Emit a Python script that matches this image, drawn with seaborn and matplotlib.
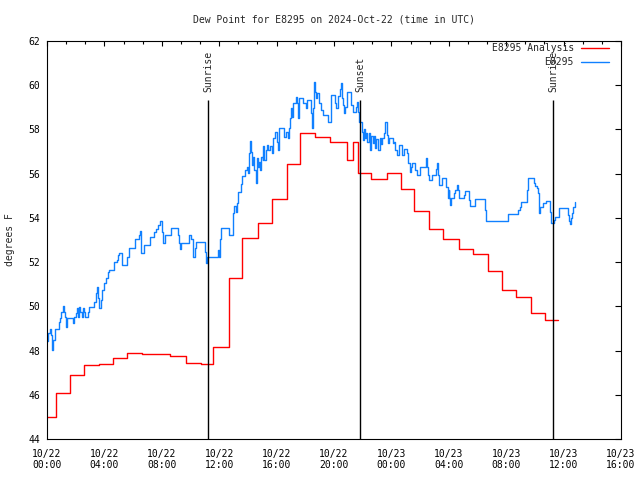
import numpy as np
import pandas as pd
import matplotlib
matplotlib.use("Agg")
import matplotlib.pyplot as plt
import matplotlib.dates as mdates
import matplotlib.ticker as mticker
import seaborn as sns

# ---------------- data ----------------
title = "Dew Point for E8295 on 2024-Oct-22 (time in UTC)"
ylabel = "degrees F"
start = pd.Timestamp("2024-10-22 00:00")
end = pd.Timestamp("2024-10-23 16:00")

# Analysis (hours after start, value)
analysis_hours = [0, 0.6, 1.6, 2.6, 3.6, 4.6, 5.6, 6.6, 8.6, 9.7, 10.7, 11.6, 12.7,
                  13.6, 14.7, 15.7, 16.7, 17.6, 18.7, 19.7, 20.9, 21.3, 21.7, 22.6,
                  23.7, 24.7, 25.6, 26.6, 27.6, 28.7, 29.7, 30.7, 31.7, 32.7, 33.7,
                  34.7, 35.6]
analysis_vals = [45.0, 46.1, 46.9, 47.35, 47.4, 47.65, 47.9, 47.85, 47.75, 47.45, 47.4,
                 48.15, 51.3, 53.1, 53.75, 54.85, 56.45, 57.85, 57.65, 57.45, 56.6,
                 57.45, 56.05, 55.75, 56.05, 55.3, 54.3, 53.5, 53.05, 52.6, 52.35,
                 51.6, 50.75, 50.4, 49.7, 49.4, 49.4]

# Station observations (hours after start, value)
obs_hours = [
    0.00, 0.09, 0.19, 0.26, 0.35, 0.44, 0.56, 0.81, 0.91, 1.00, 1.09, 1.18, 1.25, 1.35,
    1.42, 1.84, 1.90, 2.00, 2.07, 2.14, 2.23, 2.32, 2.42, 2.51, 2.58, 2.67, 2.83, 2.90,
    3.28, 3.39, 3.48, 3.55, 3.62, 3.74, 3.85, 3.97, 4.11, 4.25, 4.34, 4.67, 4.90, 4.97,
    5.04, 5.23, 5.60, 5.71, 6.15, 6.39, 6.46, 6.52, 6.57, 6.78, 7.20, 7.48, 7.60, 7.74,
    7.85, 8.01, 8.06, 8.24, 8.62, 9.13, 9.17, 9.29, 9.36, 9.92, 10.06, 10.15, 10.20,
    10.29, 10.41, 11.03, 11.08, 11.15, 11.90, 11.96, 12.03, 12.10, 12.71, 12.99, 13.05,
    13.15, 13.22, 13.33, 13.52, 13.61, 13.80, 13.91, 13.99, 14.08, 14.17, 14.24, 14.31,
    14.38, 14.45, 14.54, 14.61, 14.68, 14.77, 14.84, 14.94, 15.03, 15.08, 15.15, 15.24,
    15.33, 15.42, 15.54, 15.66, 15.77, 15.89, 16.00, 16.12, 16.19, 16.54, 16.66, 16.77,
    16.86, 16.93, 17.00, 17.10, 17.17, 17.35, 17.44, 17.51, 17.58, 17.82, 18.05, 18.14,
    18.37, 18.47, 18.54, 18.61, 18.70, 18.77, 18.84, 18.93, 19.12, 19.23, 19.58, 19.77,
    19.81, 20.05, 20.16, 20.28, 20.40, 20.47, 20.54, 20.63, 20.70, 20.79, 20.88, 21.21,
    21.32, 21.56, 21.62, 21.67, 21.72, 21.95, 22.02, 22.09, 22.18, 22.25, 22.32, 22.42,
    22.51, 22.60, 22.72, 22.79, 22.88, 22.95, 23.07, 23.18, 23.25, 23.34, 23.48, 23.58,
    23.67, 23.76, 23.85, 24.09, 24.18, 24.27, 24.41, 24.50, 24.74, 24.90, 25.09, 25.13,
    25.30, 25.37, 25.44, 25.67, 25.76, 25.99, 26.41, 26.48, 26.53, 26.60, 26.80, 27.10,
    27.20, 27.27, 27.34, 27.53, 27.80, 27.92, 27.99, 28.04, 28.11, 28.15, 28.34, 28.45,
    28.55, 28.64, 28.73, 29.03, 29.15, 29.38, 29.48, 29.85, 30.54, 30.57, 32.15, 32.82,
    32.96, 33.05, 33.43, 33.50, 33.94, 34.00, 34.12, 34.22, 34.28, 34.36, 34.59, 34.77,
    35.05, 35.12, 35.33, 35.42, 35.66, 36.33, 36.40, 36.47, 36.54, 36.61, 36.68, 36.77]
obs_vals = [
    48.43, 48.78, 48.96, 48.70, 48.02, 48.48, 48.99, 49.28, 49.49, 49.76, 50.01, 49.76,
    49.53, 49.08, 49.49, 49.23, 49.53, 49.68, 49.91, 49.53, 49.98, 49.76, 49.53, 49.91,
    49.76, 49.53, 49.76, 49.98, 50.21, 50.59, 50.89, 50.36, 49.91, 50.29, 50.74, 51.04,
    51.27, 51.57, 51.64, 52.02, 52.10, 52.32, 52.43, 51.87, 52.25, 52.62, 53.03, 53.23,
    53.41, 53.15, 52.42, 52.77, 53.15, 53.35, 53.48, 53.68, 53.85, 53.38, 52.85, 53.23,
    53.53, 53.23, 52.85, 52.58, 52.88, 53.23, 53.03, 52.55, 52.25, 52.62, 52.90, 52.47,
    51.94, 52.22, 52.55, 52.22, 53.03, 53.53, 53.23, 54.21, 54.54, 54.28, 54.69, 55.19,
    55.53, 55.89, 56.17, 56.32, 56.01, 56.92, 57.48, 57.00, 56.39, 56.77, 56.17, 55.56,
    56.69, 56.32, 56.54, 56.17, 56.77, 56.64, 57.25, 56.62, 57.07, 57.30, 57.07, 57.25,
    56.92, 57.60, 57.90, 57.45, 57.07, 58.05, 57.67, 57.90, 57.60, 58.05, 58.50, 58.95,
    58.57, 59.18, 59.48, 59.18, 58.50, 59.40, 59.18, 58.95, 59.33, 58.73, 58.05, 58.96,
    60.16, 59.70, 59.41, 59.63, 59.18, 58.88, 58.65, 58.35, 58.88, 59.56, 59.18, 58.95,
    59.51, 59.85, 60.09, 59.41, 59.10, 58.73, 59.01, 59.68, 59.10, 58.80, 59.03, 59.26,
    58.80, 58.35, 57.90, 57.52, 58.00, 57.60, 57.83, 57.45, 57.83, 57.07, 57.70, 57.40,
    57.70, 57.15, 57.55, 57.07, 57.60, 57.35, 57.60, 57.83, 58.35, 57.75, 57.37, 57.60,
    57.37, 57.45, 57.07, 56.84, 57.30, 56.84, 57.10, 56.92, 56.47, 56.09, 56.30, 56.50,
    56.16, 55.94, 56.29, 56.69, 56.30, 55.94, 55.71, 55.94, 56.20, 56.47, 55.94, 55.49,
    55.80, 55.41, 54.89, 55.28, 54.92, 54.58, 54.89, 55.11, 55.26, 55.49, 55.28, 54.92,
    55.03, 55.22, 54.81, 54.54, 54.84, 54.36, 53.86, 54.18, 54.36, 54.51, 54.73, 55.26,
    55.79, 55.60, 55.43, 55.34, 55.14, 54.21, 54.51, 54.69, 54.76, 54.28, 53.78, 53.90,
    54.05, 54.43, 54.13, 53.84, 53.73, 53.99, 54.20, 54.50, 54.70]

sun_labels = ["Sunrise", "Sunset", "Sunrise"]
sun_hours = [11.25, 21.83, 35.28]

series_labels = ["E8295 Analysis", "E8295"]
series_colors = ["#ff0000", "#1080ff"]
y_ticks = list(range(44, 63, 2))

# ---------------- build ----------------
def to_time(hours):
    return start + pd.to_timedelta(np.asarray(hours, dtype=float), unit="h")

df_a = pd.DataFrame({"time": to_time(analysis_hours), "val": analysis_vals})
df_o = pd.DataFrame({"time": to_time(obs_hours), "val": obs_vals})
sun_times = to_time(sun_hours)

sns.set_style("white")
plt.rcParams["font.family"] = ["DejaVu Sans Mono"]
plt.rcParams["font.size"] = 7

fig = plt.figure(figsize=(6.4, 4.8), dpi=100)
ax = fig.add_axes([47 / 640, 41 / 480, 574 / 640, 398 / 480])

sns.lineplot(data=df_a, x="time", y="val", ax=ax, color=series_colors[0], lw=1.0,
             drawstyle="steps-post", estimator=None, sort=False, label=series_labels[0])
sns.lineplot(data=df_o, x="time", y="val", ax=ax, color=series_colors[1], lw=1.0,
             drawstyle="steps-post", estimator=None, sort=False, label=series_labels[1])

ax.vlines(sun_times, 44, 59.35, color="black", lw=1.0)
for t, lab in zip(sun_times, sun_labels):
    ax.text(t, 59.7, lab, rotation=90, ha="center", va="bottom", fontsize=7)

ax.set_xlim(start, end)
ax.set_ylim(44, 62)
ax.set_yticks(y_ticks)
ax.xaxis.set_major_locator(mdates.HourLocator(byhour=range(0, 24, 4)))
ax.xaxis.set_major_formatter(mdates.DateFormatter("%m/%d\n%H:%M"))
ax.xaxis.set_minor_locator(mticker.MultipleLocator(1 / 18))

ax.tick_params(which="both", direction="in", top=True, right=True, width=0.8,
               colors="black", labelsize=7)
ax.tick_params(axis="x", which="major", length=3.3, pad=7)
ax.tick_params(axis="x", which="minor", length=1.8)
ax.tick_params(axis="y", which="major", length=4, pad=5)
for sp in ax.spines.values():
    sp.set_color("black")
    sp.set_linewidth(0.8)

ax.set_xlabel("")
ax.set_ylabel("")
fig.text(10 / 640, 0.5, ylabel, rotation=90, ha="center", va="center", fontsize=7)
fig.text(334 / 640, 1 - 20 / 480, title, ha="center", va="center", fontsize=7)

h, l = ax.get_legend_handles_labels()
ax.legend(h, l, loc="upper right", bbox_to_anchor=(0.979, 0.995), frameon=False,
          markerfirst=False, handlelength=2.9, handletextpad=0.7, borderpad=0,
          borderaxespad=0, labelspacing=0.45, fontsize=7)

fig.savefig("out.png", dpi=100)
